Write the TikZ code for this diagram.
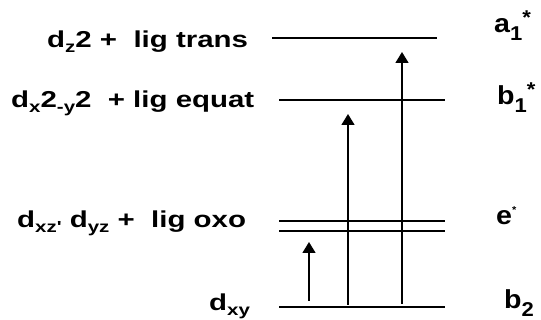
\documentclass[tikz,border=0pt]{standalone}
\usepackage{fontspec}
\usetikzlibrary{arrows.meta, positioning}
\newfontfamily\orbfont{Liberation Sans}[FakeStretch=1.28]
\newfontfamily\symfont{Liberation Sans}[FakeStretch=1.1]
\newcommand{\lo}[1]{\raisebox{-5pt}{\fontsize{16}{16}\selectfont #1}}
\newcommand{\rlo}[1]{\raisebox{-8pt}{\fontsize{20}{20}\selectfont #1}}
\newcommand{\hi}[1]{\raisebox{8pt}{\fontsize{20}{20}\selectfont #1}}

\begin{document}
\begin{tikzpicture}[x=1pt, y=-1pt, >={Triangle[width=13pt, length=11pt]},
    level/.style={line width=1.7pt},
    trans/.style={->, line width=1.5pt},
    orb/.style={font=\orbfont\bfseries\fontsize{23}{26}\selectfont, anchor=base west, inner sep=0pt},
    sym/.style={font=\symfont\bfseries\fontsize{26}{28}\selectfont, anchor=base west, inner sep=0pt}]

      \useasboundingbox (0,0) rectangle (541,320);

      % Level ends
      \coordinate (a1l) at (272,38);  \coordinate (a1r) at (437,38);
      \coordinate (b1l) at (279,100); \coordinate (b1r) at (445,100);
      \coordinate (e1l) at (279,221); \coordinate (e1r) at (445,221);
      \coordinate (e2l) at (279,231); \coordinate (e2r) at (445,231);
      \coordinate (b2l) at (279,307); \coordinate (b2r) at (445,307);

      % Levels
      \draw[level] (a1l) -- (a1r);
      \draw[level] (b1l) -- (b1r);
      \draw[level] (e1l) -- (e1r);
      \draw[level] (e2l) -- (e2r);
      \draw[level] (b2l) -- (b2r);

      % Transitions
      \coordinate (t1s) at (309,301); \coordinate (t1e) at (309,242);
      \coordinate (t2s) at (348,305); \coordinate (t2e) at (348,114);
      \coordinate (t3s) at (402,304); \coordinate (t3e) at (402,52);
      \draw[trans] (t1s) -- (t1e);
      \draw[trans] (t2s) -- (t2e);
      \draw[trans] (t3s) -- (t3e);

      % Orbital labels
      \node[orb] (ltrans) at (47,48) {d\lo{z}2 +\ \ lig trans};
      \node[orb] (lequat) at (11,108) {d\lo{x}2\lo{-y}2\ \ +\ lig equat};
      \node[orb] (loxo) at (17,228) {d\lo{xz'} d\lo{yz} +\ \ lig oxo};
      \node[orb] (lxy) at (209,311) {d\lo{xy}};

      % Symmetry labels
      \node[sym] (sa1) at (494,33) {a\rlo{1}\hi{*}};
      \node[sym] (sb1) at (497,105) {b\rlo{1}\hi{*}};
      \node[sym] (se) at (496,225) {e\raisebox{11pt}{\fontsize{10}{10}\selectfont *}};
      \node[sym] (sb2) at (504,309) {b\rlo{2}};

    \end{tikzpicture}
\end{document}
